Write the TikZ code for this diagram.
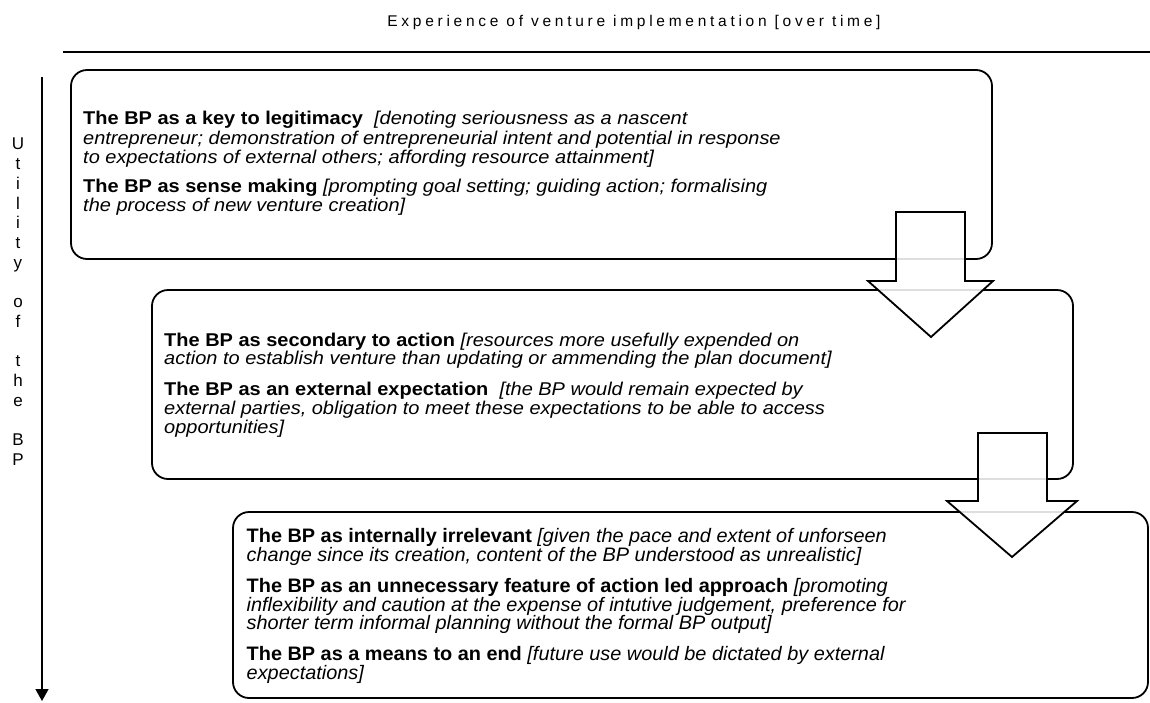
\documentclass[tikz,border=0pt]{standalone}
\usepackage{fontspec}
\setmainfont{Liberation Sans}
\newfontfamily\widesans{Liberation Sans}[FakeStretch=1.08]
\newfontfamily\boxthreesans{Liberation Sans}[FakeStretch=1.02]
\newfontfamily\spacedsans{Liberation Sans}[LetterSpace=24]
\usetikzlibrary{arrows.meta}
\newcommand{\tightlines}{\lineskiplimit=-30pt\lineskip=0pt}
\begin{document}
\begin{tikzpicture}[x=1pt,y=-1pt,
  stagebox/.style={draw, line width=1.8pt, rounded corners=16pt},
  stagetext/.style={anchor=north west, align=left, inner sep=0pt},
  blockarrow/.style={draw, line width=1.8pt, fill=white, fill opacity=0.87, line join=miter},
  axis/.style={line width=1.6pt}
]
\useasboundingbox (0,0) rectangle (1150,702);

% title and top rule
\node[font=\fontsize{15.5}{17}\spacedsans, anchor=base] (title) at (634,26) {Experience of venture implementation [over time]};
\coordinate (ruleL) at (63,52);
\coordinate (ruleR) at (1150,52);
\draw[axis] (ruleL) -- (ruleR);

% vertical axis
\coordinate (axTop) at (42,77);
\coordinate (axBot) at (42,701);
\draw[axis, -{Triangle[length=12pt,width=13pt]}] (axTop) -- (axBot);
\node[font=\fontsize{17}{19.7}\selectfont\tightlines, align=center, anchor=north, inner sep=0pt] (ylabel) at (18,138)
 {U\\t\\i\\l\\i\\t\\y\\[19.7pt]o\\f\\[19.7pt]t\\h\\e\\[19.7pt]B\\P};

% boxes
\node[stagebox, minimum width=921pt, minimum height=189pt, inner sep=0pt] (box1) at (531.5,164.5) {};
\node[stagebox, minimum width=921pt, minimum height=189pt, inner sep=0pt] (box2) at (612.5,384.5) {};
\node[stagebox, minimum width=915pt, minimum height=186pt, inner sep=0pt] (box3) at (690.5,605) {};

% texts
\node[stagetext, font=\fontsize{18.5}{19.5}\widesans\tightlines] (t1) at (83,111) {%
\textbf{The BP as a key to legitimacy}\ \ \textit{[denoting seriousness as a nascent}\\
\textit{entrepreneur; demonstration of entrepreneurial intent and potential in response}\\
\textit{to expectations of external others; affording resource attainment]}\\[9pt]
\textbf{The BP as sense making} \textit{[prompting goal setting; guiding action; formalising}\\
\textit{the process of new venture creation]}};

\node[stagetext, font=\fontsize{18.5}{18.8}\widesans\tightlines] (t2) at (164,332.5) {%
\textbf{The BP as secondary to action} \textit{[resources more usefully expended on}\\
\textit{action to establish venture than updating or ammending the plan document]}\\[12pt]
\textbf{The BP as an external expectation}\ \ \textit{[the BP would remain expected by}\\
\textit{external parties, obligation to meet these expectations to be able to access}\\
\textit{opportunities]}};

\node[stagetext, font=\fontsize{19.5}{18.8}\boxthreesans\tightlines] (t3) at (246.5,528.3) {%
\textbf{The BP as internally irrelevant} \textit{[given the pace and extent of unforseen}\\
\textit{change since its creation, content of the BP understood as unrealistic]}\\[12pt]
\textbf{The BP as an unnecessary feature of action led approach} \textit{[promoting}\\
\textit{inflexibility and caution at the expense of intutive judgement, preference for}\\
\textit{shorter term informal planning without the formal BP output]}\\[12pt]
\textbf{The BP as a means to an end} \textit{[future use would be dictated by external}\\
\textit{expectations]}};

% block arrows between stages
\draw[blockarrow] (896,212) -- (965,212) -- (965,281) -- (993,281) -- (931,337) -- (868,281) -- (896,281) -- cycle;
\draw[blockarrow] (978,433) -- (1047,433) -- (1047,501) -- (1077,501) -- (1012,557) -- (947,501) -- (978,501) -- cycle;
\end{tikzpicture}
\end{document}
